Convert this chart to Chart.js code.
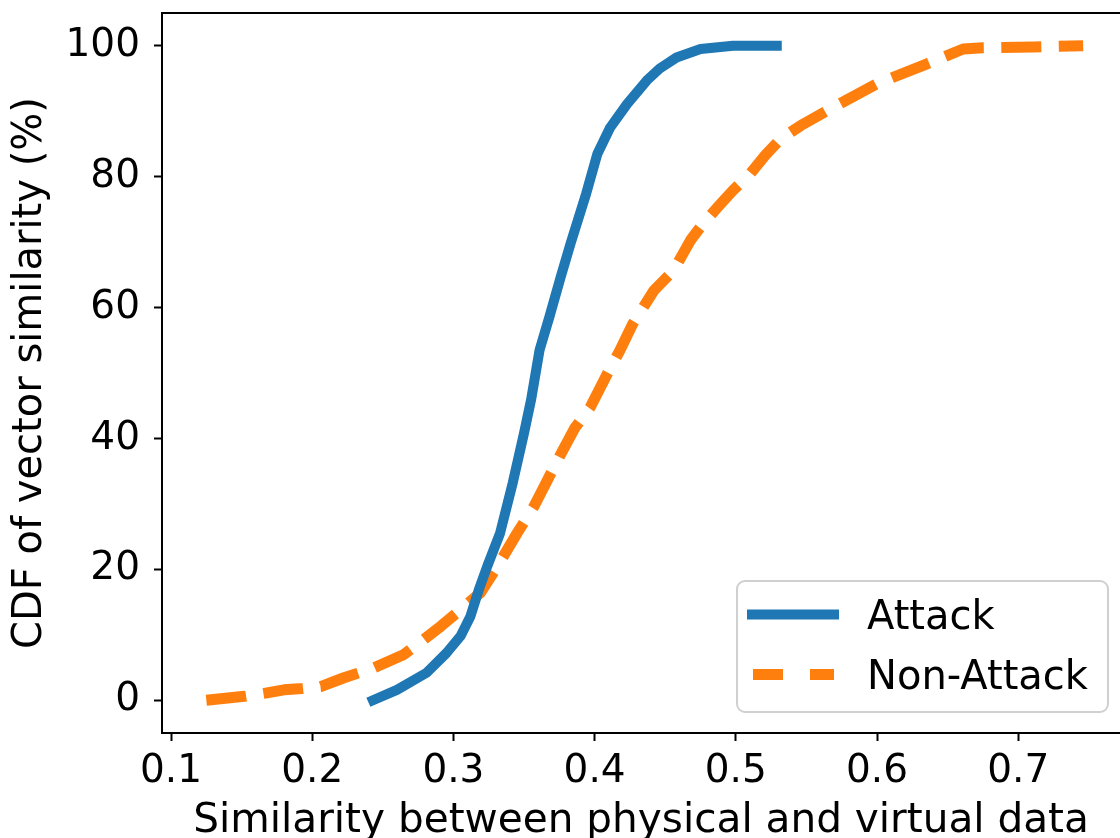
<!DOCTYPE html>
<html>
<head>
<meta charset="utf-8">
<script src="https://cdn.jsdelivr.net/npm/chart.js@4.4.0/dist/chart.umd.min.js"></script>
<style>
  html, body { margin: 0; padding: 0; background: #fff; }
  canvas { display: block; }
</style>
</head>
<body>
<canvas id="cdf" width="1120" height="838"></canvas>
<script>
// values
var attackX = [0.243, 0.260, 0.281, 0.295, 0.305, 0.312, 0.318, 0.324, 0.333, 0.342, 0.350, 0.355, 0.361,
               0.368, 0.376, 0.383, 0.394, 0.402, 0.411, 0.423, 0.437, 0.446, 0.458, 0.475, 0.498, 0.529];
var attackY = [0, 1.6, 4.2, 7.2, 9.8, 12.8, 16.9, 20.5, 25.5, 33.2, 40.8, 45.9, 53.5,
               58.6, 64.7, 69.8, 77.4, 83.5, 87.5, 91.1, 94.7, 96.5, 98.2, 99.5, 100, 100];

var nonAttackX = [0.125, 0.152, 0.167, 0.180, 0.193, 0.206, 0.222, 0.243, 0.265, 0.276, 0.291, 0.305, 0.319,
                  0.331, 0.345, 0.357, 0.366, 0.376, 0.386, 0.397, 0.409, 0.418, 0.427, 0.442, 0.456, 0.468,
                  0.476, 0.487, 0.498, 0.510, 0.521, 0.532, 0.546, 0.569, 0.600, 0.635, 0.661, 0.675, 0.711, 0.746];
var nonAttackY = [0, 0.6, 1.1, 1.6, 1.8, 2.1, 3.4, 4.9, 7.0, 8.8, 11.3, 13.8, 16.4,
                  20.4, 25.5, 29.6, 33.4, 37.6, 41.6, 44.8, 49.9, 53.5, 57.5, 62.6, 65.7, 70.3,
                  72.6, 75.3, 77.9, 80.4, 83.3, 85.8, 87.8, 90.6, 94.2, 97.2, 99.5, 99.7, 99.8, 100];

var xTicks = [0.1, 0.2, 0.3, 0.4, 0.5, 0.6, 0.7];
var yTicks = [0, 20, 40, 60, 80, 100];

var seriesLabels = ["Attack", "Non-Attack"];

function toPoints(xs, ys) {
  return xs.map(function (x, i) { return { x: x, y: ys[i] }; });
}

var FONT = "'DejaVu Sans', 'Liberation Sans', sans-serif";
Chart.defaults.color = "#000";
Chart.defaults.font.family = FONT;

// top spine (matplotlib box)
var topSpine = {
  id: "topSpine",
  afterDraw: function (chart) {
    var a = chart.chartArea, ctx = chart.ctx;
    ctx.save();
    ctx.strokeStyle = "#000";
    ctx.lineWidth = 2;
    ctx.beginPath();
    ctx.moveTo(a.left - 1, a.top);
    ctx.lineTo(a.right + 2, a.top);
    ctx.stroke();
    ctx.restore();
  }
};

// legend in a rounded box, lower right
var boxLegend = {
  id: "boxLegend",
  afterDraw: function (chart) {
    var ctx = chart.ctx;
    ctx.save();
    ctx.beginPath();
    ctx.roundRect(737, 581, 371, 131, 8);
    ctx.fillStyle = "rgba(255,255,255,0.8)";
    ctx.fill();
    ctx.strokeStyle = "#d0d0d0";
    ctx.lineWidth = 2;
    ctx.stroke();

    var rows = [614.5, 674.5];
    chart.data.datasets.forEach(function (ds, i) {
      var y = rows[i];
      ctx.beginPath();
      ctx.strokeStyle = ds.borderColor;
      ctx.lineWidth = ds.borderWidth;
      ctx.lineCap = "butt";
      if (ds.borderDash && ds.borderDash.length) {
        ctx.setLineDash([30, 27]);
        ctx.moveTo(753, y);
        ctx.lineTo(834, y);
      } else {
        ctx.setLineDash([]);
        ctx.moveTo(747, y);
        ctx.lineTo(839, y);
      }
      ctx.stroke();
      ctx.setLineDash([]);
      ctx.fillStyle = "#000";
      ctx.font = "40px " + FONT;
      ctx.textAlign = "left";
      ctx.textBaseline = "alphabetic";
      ctx.fillText(ds.label, 867, y + 14);
    });
    ctx.restore();
  }
};

var ctx = document.getElementById("cdf").getContext("2d");
new Chart(ctx, {
  type: "line",
  data: {
    datasets: [{
      label: seriesLabels[0],
      data: toPoints(attackX, attackY),
      borderColor: "#1f77b4",
      backgroundColor: "#1f77b4",
      borderWidth: 10,
      borderCapStyle: "square",
      borderJoinStyle: "round",
      pointRadius: 0,
      tension: 0,
      fill: false
    }, {
      label: seriesLabels[1],
      data: toPoints(nonAttackX, nonAttackY),
      borderColor: "#ff7f0e",
      backgroundColor: "#ff7f0e",
      borderWidth: 11,
      borderDash: [40, 17.5],
      borderCapStyle: "butt",
      borderJoinStyle: "round",
      pointRadius: 0,
      tension: 0,
      fill: false
    }]
  },
  options: {
    responsive: false,
    animation: false,
    devicePixelRatio: 1,
    layout: { padding: { top: 13, left: 0, right: 0, bottom: 0 } },
    plugins: {
      legend: { display: false },
      tooltip: { enabled: false }
    },
    scales: {
      x: {
        type: "linear",
        position: "bottom",
        min: 0.0936,
        max: 0.7721,
        afterBuildTicks: function (scale) {
          scale.ticks = xTicks.map(function (v) { return { value: v }; });
        },
        afterFit: function (scale) {
          scale.height = 105;
          scale.paddingLeft = 0;
          scale.paddingRight = 0;
        },
        grid: {
          drawOnChartArea: false,
          drawTicks: true,
          tickLength: 8,
          tickWidth: 2,
          tickColor: "#000"
        },
        border: { display: true, color: "#000", width: 2 },
        ticks: {
          padding: 7,
          maxRotation: 0,
          autoSkip: false,
          font: { size: 39, lineHeight: 1.2 },
          callback: function (v) { return Number(v).toFixed(1); }
        },
        title: {
          display: true,
          text: "Similarity between physical and virtual data",
          font: { size: 40.6, lineHeight: 0.8 },
          padding: { top: 0, bottom: 0 }
        }
      },
      y: {
        type: "linear",
        min: -5,
        max: 105,
        afterBuildTicks: function (scale) {
          scale.ticks = yTicks.map(function (v) { return { value: v }; });
        },
        afterFit: function (scale) {
          scale.width = 162;
          scale.paddingTop = 0;
          scale.paddingBottom = 0;
        },
        grid: {
          drawOnChartArea: false,
          drawTicks: true,
          tickLength: 8,
          tickWidth: 2,
          tickColor: "#000"
        },
        border: { display: true, color: "#000", width: 2 },
        ticks: {
          padding: 14,
          autoSkip: false,
          font: { size: 39, lineHeight: 1.2 },
          callback: function (v) { return String(v); }
        },
        title: {
          display: true,
          text: "CDF of vector similarity (%)",
          font: { size: 40, lineHeight: 1.2 },
          padding: { top: 7, bottom: 0 }
        }
      }
    }
  },
  plugins: [topSpine, boxLegend]
});
</script>
</body>
</html>
